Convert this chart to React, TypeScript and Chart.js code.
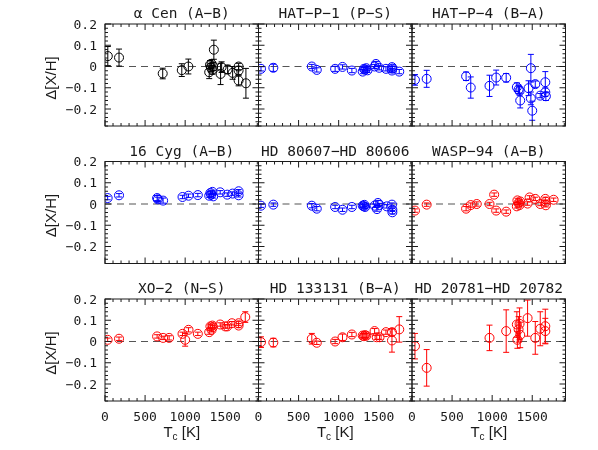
import React, { useEffect, useRef } from "react";
import { Chart, registerables } from "chart.js";

Chart.register(...registerables);

// ---------------- data ----------------
const xTickValues = [0, 500, 1000, 1500];
const yTickValues = [-0.2, -0.1, 0, 0.1, 0.2];
const yTickLabels = ["\u22120.2", "\u22120.1", "0", "0.1", "0.2"];

const aCenTc = [35, 175, 720, 958, 1040, 1300, 1310, 1320, 1330, 1340, 1350, 1358, 1442, 1455, 1530, 1592, 1667, 1667, 1667, 1758];
const aCenDiff = [0.049, 0.042, -0.033, -0.017, 0.0, -0.027, 0.008, -0.005, 0.012, -0.016, 0.0, 0.079, -0.035, -0.003, -0.014, -0.03, 0.0, -0.019, -0.066, -0.079];
const aCenErr = [0.045, 0.04, 0.025, 0.03, 0.035, 0.03, 0.02, 0.02, 0.02, 0.02, 0.02, 0.045, 0.05, 0.025, 0.02, 0.03, 0.015, 0.02, 0.025, 0.07];

const hatP1Tc = [31, 185, 665, 727, 956, 1048, 1165, 1300, 1315, 1330, 1345, 1360, 1448, 1465, 1506, 1590, 1665, 1665, 1670, 1756];
const hatP1Diff = [-0.011, -0.006, 0.0, -0.016, -0.011, -0.002, -0.019, -0.024, -0.011, -0.015, -0.008, -0.018, 0.0, 0.012, -0.006, -0.011, -0.003, -0.019, -0.01, -0.024];
const hatP1Err = [0.01, 0.017, 0.01, 0.01, 0.012, 0.01, 0.01, 0.01, 0.01, 0.01, 0.01, 0.01, 0.01, 0.012, 0.01, 0.01, 0.01, 0.01, 0.01, 0.01];

const hatP4Tc = [37, 183, 675, 733, 967, 1050, 1175, 1308, 1330, 1342, 1350, 1454, 1483, 1483, 1500, 1538, 1600, 1663, 1663, 1670];
const hatP4Diff = [-0.063, -0.058, -0.046, -0.099, -0.091, -0.052, -0.053, -0.097, -0.108, -0.115, -0.16, -0.102, -0.008, -0.15, -0.208, -0.083, -0.137, -0.074, -0.121, -0.14];
const hatP4Err = [0.025, 0.04, 0.02, 0.05, 0.05, 0.035, 0.02, 0.02, 0.02, 0.02, 0.035, 0.035, 0.065, 0.03, 0.045, 0.015, 0.01, 0.05, 0.02, 0.02];

const cyg16Tc = [33, 175, 650, 660, 725, 967, 1042, 1158, 1300, 1315, 1325, 1340, 1350, 1437, 1525, 1592, 1667, 1667];
const cyg16Diff = [0.028, 0.041, 0.028, 0.022, 0.016, 0.033, 0.039, 0.042, 0.039, 0.052, 0.044, 0.057, 0.036, 0.055, 0.044, 0.049, 0.06, 0.041];
const cyg16Err = [0.008, 0.008, 0.012, 0.01, 0.012, 0.008, 0.008, 0.008, 0.008, 0.008, 0.008, 0.008, 0.008, 0.008, 0.008, 0.008, 0.008, 0.008];

const hd80607Tc = [31, 185, 665, 727, 956, 1048, 1165, 1300, 1315, 1320, 1330, 1448, 1478, 1490, 1510, 1600, 1665, 1670, 1670];
const hd80607Diff = [-0.008, -0.003, -0.008, -0.022, -0.014, -0.027, -0.014, -0.008, -0.011, -0.004, -0.014, -0.008, -0.024, 0.005, -0.005, -0.011, -0.003, -0.027, -0.039];
const hd80607Err = [0.008, 0.008, 0.01, 0.01, 0.008, 0.008, 0.008, 0.008, 0.008, 0.008, 0.008, 0.008, 0.01, 0.012, 0.008, 0.008, 0.008, 0.008, 0.008];

const wasp94Tc = [37, 183, 675, 733, 808, 967, 1025, 1050, 1175, 1308, 1315, 1330, 1342, 1350, 1442, 1467, 1538, 1600, 1663, 1670, 1670, 1767];
const wasp94Diff = [-0.031, -0.003, -0.022, -0.005, 0.0, 0.0, 0.044, -0.031, -0.036, -0.011, 0.017, 0.005, -0.005, 0.012, 0.002, 0.031, 0.024, 0.0, 0.024, 0.011, -0.006, 0.02];
const wasp94Err = [0.008, 0.008, 0.01, 0.01, 0.01, 0.008, 0.008, 0.008, 0.008, 0.008, 0.01, 0.008, 0.008, 0.008, 0.008, 0.008, 0.008, 0.008, 0.008, 0.008, 0.008, 0.008];

const xo2Tc = [33, 175, 650, 725, 800, 967, 1000, 1042, 1158, 1300, 1315, 1330, 1340, 1345, 1437, 1500, 1525, 1583, 1667, 1667, 1750];
const xo2Diff = [0.008, 0.013, 0.024, 0.017, 0.017, 0.036, 0.008, 0.055, 0.036, 0.044, 0.071, 0.055, 0.075, 0.068, 0.08, 0.071, 0.071, 0.086, 0.086, 0.075, 0.115];
const xo2Err = [0.008, 0.008, 0.008, 0.008, 0.01, 0.008, 0.03, 0.01, 0.008, 0.01, 0.01, 0.01, 0.008, 0.008, 0.008, 0.008, 0.008, 0.008, 0.01, 0.01, 0.025];

const hd133131Tc = [31, 185, 665, 727, 956, 1048, 1165, 1300, 1315, 1330, 1345, 1448, 1475, 1510, 1590, 1665, 1665, 1756];
const hd133131Diff = [-0.003, -0.005, 0.013, -0.006, 0.0, 0.02, 0.033, 0.028, 0.025, 0.03, 0.027, 0.049, 0.02, 0.02, 0.044, 0.044, 0.005, 0.057];
const hd133131Err = [0.025, 0.02, 0.025, 0.008, 0.01, 0.015, 0.01, 0.01, 0.01, 0.01, 0.01, 0.012, 0.01, 0.01, 0.01, 0.015, 0.055, 0.06];

const hd20781Tc = [37, 183, 967, 1175, 1308, 1315, 1330, 1342, 1350, 1442, 1538, 1600, 1663, 1663];
const hd20781Diff = [-0.022, -0.124, 0.017, 0.049, 0.08, 0.008, 0.057, 0.083, 0.031, 0.11, 0.017, 0.06, 0.072, 0.049];
const hd20781Err = [0.06, 0.086, 0.06, 0.1, 0.06, 0.04, 0.06, 0.075, 0.06, 0.085, 0.077, 0.08, 0.08, 0.06];

const BLACK = "#000000";
const BLUE = "#0000ff";
const RED = "#ff0000";

const panels = [
  { title: "\u03b1 Cen (A\u2212B)", tc: aCenTc, d: aCenDiff, e: aCenErr, color: BLACK },
  { title: "HAT\u2212P\u22121 (P\u2212S)", tc: hatP1Tc, d: hatP1Diff, e: hatP1Err, color: BLUE },
  { title: "HAT\u2212P\u22124 (B\u2212A)", tc: hatP4Tc, d: hatP4Diff, e: hatP4Err, color: BLUE },
  { title: "16 Cyg (A\u2212B)", tc: cyg16Tc, d: cyg16Diff, e: cyg16Err, color: BLUE },
  { title: "HD 80607\u2212HD 80606", tc: hd80607Tc, d: hd80607Diff, e: hd80607Err, color: BLUE },
  { title: "WASP\u221294 (A\u2212B)", tc: wasp94Tc, d: wasp94Diff, e: wasp94Err, color: RED },
  { title: "XO\u22122 (N\u2212S)", tc: xo2Tc, d: xo2Diff, e: xo2Err, color: RED },
  { title: "HD 133131 (B\u2212A)", tc: hd133131Tc, d: hd133131Diff, e: hd133131Err, color: RED },
  { title: "HD 20781\u2212HD 20782", tc: hd20781Tc, d: hd20781Diff, e: hd20781Err, color: RED },
];

// ---------------- layout ----------------
const W = 598;
const H = 450;
const COL_LEFT = [105, 258.5, 412];
const ROW_TOP = [24, 161.5, 299];
const PW = 153.5;
const PH = 102;
const X_MIN = 0;
const X_MAX = 1915;
const Y_MIN = -0.28;
const Y_MAX = 0.2;

const TICK_FONT = "DejaVu Sans Mono";
const LABEL_FONT = "Liberation Sans";
const TITLE_FONT = "DejaVu Sans Mono";
const INK = "#1a1a1a";

function Panel({ idx }: { idx: number }) {
  const ref = useRef<HTMLCanvasElement | null>(null);
  useEffect(() => {
    const p = panels[idx];
    const row = Math.floor(idx / 3);
    const col = idx % 3;
    const left = COL_LEFT[col];
    const top = ROW_TOP[row];
    const bottomSpace = H - top - PH;
    const data = p.tc.map((x, i) => ({ x, y: p.d[i], e: p.e[i] }));

    const deco = {
      id: "deco",
      beforeDatasetsDraw(chart: any) {
        const { ctx, chartArea: a, scales } = chart;
        const y0 = scales.y.getPixelForValue(0);
        ctx.save();
        ctx.strokeStyle = "#555";
        ctx.lineWidth = 1.2;
        ctx.setLineDash([7, 5]);
        ctx.beginPath();
        ctx.moveTo(a.left, y0);
        ctx.lineTo(a.right, y0);
        ctx.stroke();
        ctx.restore();
      },
      afterDraw(chart: any) {
        const { ctx, chartArea: a, scales } = chart;
        const xs = scales.x;
        const ys = scales.y;
        // error bars
        ctx.save();
        ctx.strokeStyle = p.color;
        ctx.lineWidth = 1;
        const ds = chart.data.datasets[0].data as any[];
        ds.forEach((pt) => {
          const px = xs.getPixelForValue(pt.x);
          const lo = ys.getPixelForValue(pt.y - pt.e);
          const hi = ys.getPixelForValue(pt.y + pt.e);
          ctx.beginPath();
          ctx.moveTo(px, lo);
          ctx.lineTo(px, hi);
          ctx.moveTo(px - 3, lo);
          ctx.lineTo(px + 3, lo);
          ctx.moveTo(px - 3, hi);
          ctx.lineTo(px + 3, hi);
          ctx.stroke();
        });
        ctx.restore();

        // frame and ticks
        ctx.save();
        ctx.strokeStyle = INK;
        ctx.lineWidth = 1;
        ctx.strokeRect(a.left, a.top, a.right - a.left, a.bottom - a.top);
        ctx.beginPath();
        for (let v = 0; v <= X_MAX; v += 100) {
          const px = xs.getPixelForValue(v);
          const len = v % 500 === 0 ? 6 : 3;
          ctx.moveTo(px, a.bottom);
          ctx.lineTo(px, a.bottom - len);
          ctx.moveTo(px, a.top);
          ctx.lineTo(px, a.top + len);
        }
        for (let k = -14; k <= 10; k++) {
          const v = k * 0.02;
          const py = ys.getPixelForValue(v);
          const len = k % 5 === 0 ? 6 : 3;
          ctx.moveTo(a.left, py);
          ctx.lineTo(a.left + len, py);
          ctx.moveTo(a.right, py);
          ctx.lineTo(a.right - len, py);
        }
        ctx.stroke();
        ctx.restore();

        // y tick labels (left column only)
        if (col === 0) {
          ctx.save();
          ctx.fillStyle = INK;
          ctx.font = `13px "${TICK_FONT}"`;
          ctx.textAlign = "left";
          ctx.textBaseline = "alphabetic";
          yTickValues.forEach((v, i) => {
            const label = yTickLabels[i];
            const w = ctx.measureText(label).width;
            ctx.fillText(label, a.left - 8 - w, ys.getPixelForValue(v) + 4.5);
          });
          ctx.restore();
        }

        // panel title
        ctx.save();
        ctx.fillStyle = INK;
        ctx.font = `14.5px "${TITLE_FONT}"`;
        ctx.textAlign = "center";
        ctx.textBaseline = "alphabetic";
        ctx.fillText(p.title, (a.left + a.right) / 2, a.top - 6);
        ctx.restore();

        // y axis title
        if (col === 0) {
          ctx.save();
          ctx.fillStyle = INK;
          ctx.font = `15px "${LABEL_FONT}"`;
          ctx.translate(52, (a.top + a.bottom) / 2 + 3);
          ctx.rotate(-Math.PI / 2);
          ctx.textAlign = "center";
          ctx.textBaseline = "middle";
          ctx.fillText("\u0394[X/H]", 0, 0);
          ctx.restore();
        }
        // x axis title
        if (row === 2) {
          ctx.save();
          ctx.fillStyle = INK;
          const big = `15px "${LABEL_FONT}"`;
          const small = `10px "${LABEL_FONT}"`;
          ctx.font = big;
          const wT = ctx.measureText("T").width;
          const wRest = ctx.measureText(" [K]").width;
          ctx.font = small;
          const wc = ctx.measureText("c").width;
          const total = wT + wc + wRest;
          let x = (a.left + a.right) / 2 - total / 2;
          const base = 437;
          ctx.textBaseline = "alphabetic";
          ctx.textAlign = "left";
          ctx.font = big;
          ctx.fillText("T", x, base);
          x += wT;
          ctx.font = small;
          ctx.fillText("c", x, base + 3);
          x += wc;
          ctx.font = big;
          ctx.fillText(" [K]", x, base);
          ctx.restore();
        }
      },
    };

    const chart = new Chart(ref.current as HTMLCanvasElement, {
      type: "scatter",
      data: {
        datasets: [
          {
            data,
            borderColor: p.color,
            backgroundColor: "rgba(0,0,0,0)",
            pointRadius: 4.5,
            pointHoverRadius: 4.5,
            pointBorderWidth: 1,
            pointStyle: "circle",
            showLine: false,
          } as any,
        ],
      },
      options: {
        responsive: false,
        animation: false,
        events: [],
        layout: {
          padding: { left: 0, top, right: W - left - PW, bottom: 0 },
        },
        plugins: {
          legend: { display: false },
          tooltip: { enabled: false },
          title: { display: false },
        },
        scales: {
          x: {
            type: "linear",
            min: X_MIN,
            max: X_MAX,
            afterFit: (s: any) => {
              s.height = bottomSpace;
            },
            afterBuildTicks: (s: any) => {
              s.ticks = xTickValues.map((v) => ({ value: v }));
            },
            grid: { display: false, drawTicks: false },
            border: { display: false },
            ticks: {
              display: row === 2,
              padding: 9,
              color: INK,
              maxRotation: 0,
              autoSkip: false,
              font: { family: TICK_FONT, size: 13 },
              callback: (v: any) => String(v),
            },
          },
          y: {
            type: "linear",
            min: Y_MIN,
            max: Y_MAX,
            afterFit: (s: any) => {
              s.width = left;
            },
            afterBuildTicks: (s: any) => {
              s.ticks = yTickValues.map((v) => ({ value: v }));
            },
            grid: { display: false, drawTicks: false },
            border: { display: false },
            ticks: { display: false },
          },
        },
      },
      plugins: [deco],
    });
    return () => chart.destroy();
  }, [idx]);

  return (
    <canvas
      ref={ref}
      width={W}
      height={H}
      style={{ position: "absolute", left: 0, top: 0, width: W, height: H }}
    />
  );
}

export default function App() {
  return (
    <div
      style={{
        position: "absolute",
        left: 0,
        top: 0,
        width: W,
        height: H,
        background: "#ffffff",
        overflow: "hidden",
      }}
    >
      {panels.map((_, i) => (
        <Panel key={i} idx={i} />
      ))}
    </div>
  );
}
